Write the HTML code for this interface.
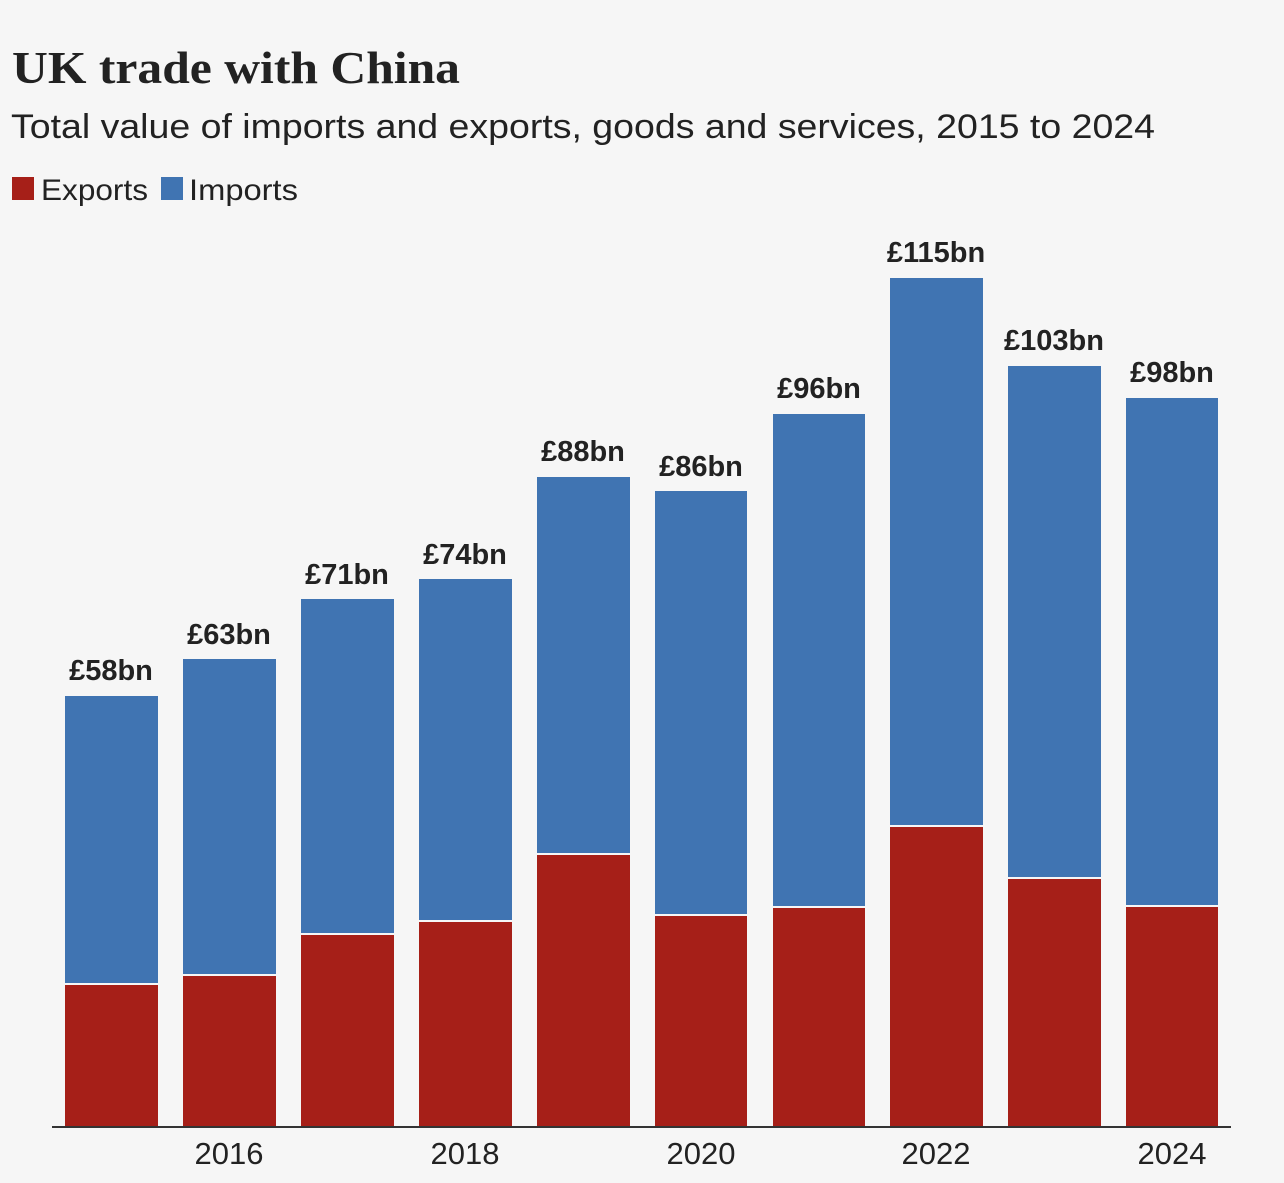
<!DOCTYPE html>
<html><head><meta charset="utf-8"><style>
html,body{margin:0;padding:0;background:#f6f6f6;}
body{width:1284px;height:1183px;position:relative;overflow:hidden;font-family:"Liberation Sans",sans-serif;color:#222;}
</style></head><body>
<svg width="1284" height="1183" xmlns="http://www.w3.org/2000/svg" style="position:absolute;left:0;top:0">
<rect width="1284" height="1183" fill="#f6f6f6"/>
<text x="12" y="83" font-family="Liberation Serif, serif" font-weight="bold" font-size="46" fill="#222" textLength="448" lengthAdjust="spacingAndGlyphs">UK trade with China</text>
<text x="11" y="138" font-family="Liberation Sans, sans-serif" font-size="34" fill="#222" textLength="1144" lengthAdjust="spacingAndGlyphs">Total value of imports and exports, goods and services, 2015 to 2024</text>
<rect x="12" y="177" width="22" height="23" fill="#a61f18"/>
<text x="41" y="200" font-size="30" fill="#222" textLength="107" lengthAdjust="spacingAndGlyphs">Exports</text>
<rect x="161" y="177" width="22" height="23" fill="#4074b2"/>
<text x="189" y="200" font-size="30" fill="#222" textLength="109" lengthAdjust="spacingAndGlyphs">Imports</text>
<g stroke="#f6f6f6" stroke-width="2">
<rect x="64" y="695" width="95" height="432" fill="#4074b2"/><rect x="64" y="984" width="95" height="143" fill="#a61f18"/>
<rect x="182" y="658" width="95" height="469" fill="#4074b2"/><rect x="182" y="975" width="95" height="152" fill="#a61f18"/>
<rect x="300" y="598" width="95" height="529" fill="#4074b2"/><rect x="300" y="934" width="95" height="193" fill="#a61f18"/>
<rect x="418" y="578" width="95" height="549" fill="#4074b2"/><rect x="418" y="921" width="95" height="206" fill="#a61f18"/>
<rect x="536" y="476" width="95" height="651" fill="#4074b2"/><rect x="536" y="854" width="95" height="273" fill="#a61f18"/>
<rect x="654" y="490" width="94" height="637" fill="#4074b2"/><rect x="654" y="915" width="94" height="212" fill="#a61f18"/>
<rect x="772" y="413" width="94" height="714" fill="#4074b2"/><rect x="772" y="907" width="94" height="220" fill="#a61f18"/>
<rect x="889" y="277" width="95" height="850" fill="#4074b2"/><rect x="889" y="826" width="95" height="301" fill="#a61f18"/>
<rect x="1007" y="365" width="95" height="762" fill="#4074b2"/><rect x="1007" y="878" width="95" height="249" fill="#a61f18"/>
<rect x="1125" y="397" width="94" height="730" fill="#4074b2"/><rect x="1125" y="906" width="94" height="221" fill="#a61f18"/>
</g>
<line x1="52" y1="1127" x2="1231" y2="1127" stroke="#333" stroke-width="2"/>
<g font-weight="bold" font-size="29" text-anchor="middle" fill="#222">
<text x="111" y="680">£58bn</text>
<text x="229" y="644">£63bn</text>
<text x="347" y="584">£71bn</text>
<text x="465" y="564">£74bn</text>
<text x="583" y="461">£88bn</text>
<text x="701" y="476">£86bn</text>
<text x="819" y="398">£96bn</text>
<text x="936" y="262">£115bn</text>
<text x="1054" y="350">£103bn</text>
<text x="1172" y="382">£98bn</text>
</g>
<g font-size="31" text-anchor="middle" fill="#222">
<text x="229" y="1164">2016</text>
<text x="465" y="1164">2018</text>
<text x="701" y="1164">2020</text>
<text x="936" y="1164">2022</text>
<text x="1172" y="1164">2024</text>
</g>
</svg>
</body></html>
